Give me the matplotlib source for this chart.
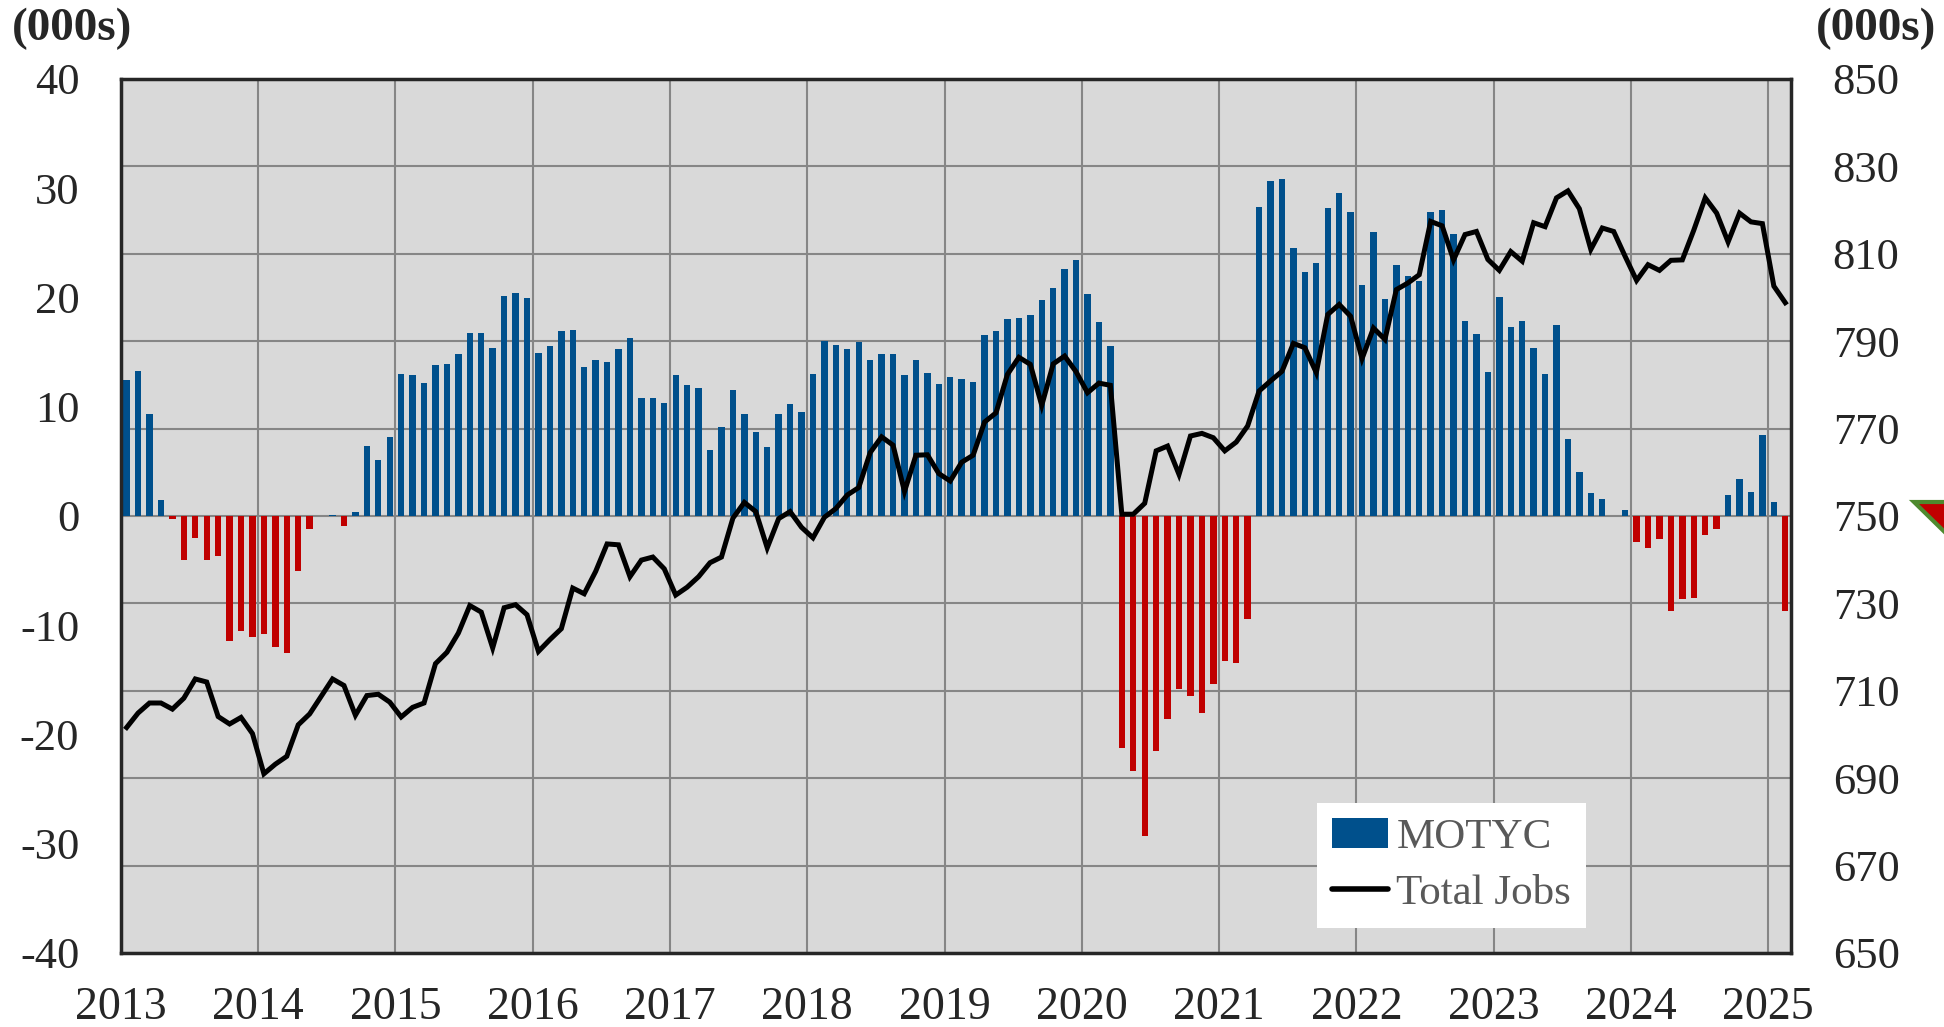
import matplotlib.pyplot as plt
import numpy as np
from matplotlib.patches import Patch, Polygon
from matplotlib.lines import Line2D

plt.rcParams['font.family'] = ['Liberation Serif', 'DejaVu Serif']
plt.rcParams['axes.unicode_minus'] = False

# monthly data, Jan 2013 .. Feb 2025
motyc = [
    12.45, 13.27, 9.34, 1.46, -0.25, -4.0, -2.0, -4.0, -3.66, -11.4,
    -10.5, -11.1, -10.8, -12.0, -12.5, -5.0, -1.2, 0.0, 0.1, -0.9,
    0.4, 6.4, 5.1, 7.2, 13.0, 12.9, 12.2, 13.85, 13.9, 14.86,
    16.75, 16.75, 15.4, 20.1, 20.4, 19.95, 14.95, 15.56, 16.96, 17.05,
    13.6, 14.3, 14.07, 15.25, 16.26, 10.83, 10.83, 10.34, 12.88, 11.96,
    11.75, 6.04, 8.15, 11.53, 9.34, 7.66, 6.32, 9.34, 10.25, 9.55,
    12.97, 16.05, 15.65, 15.25, 15.96, 14.3, 14.86, 14.86, 12.88, 14.28,
    13.06, 12.05, 12.75, 12.54, 12.26, 16.57, 16.96, 18.06, 18.15, 18.37,
    19.8, 20.84, 22.58, 23.46, 20.3, 17.76, 15.56, -21.2, -23.3, -29.26,
    -21.5, -18.55, -15.8, -16.5, -18.0, -15.4, -13.3, -13.5, -9.4, 28.28,
    30.66, 30.8, 24.56, 22.36, 23.19, 28.19, 29.6, 27.8, 21.15, 26.0,
    19.9, 22.97, 21.97, 21.5, 27.8, 27.98, 25.8, 17.88, 16.66, 13.15,
    20.08, 17.33, 17.88, 15.35, 12.97, 17.45, 7.05, 4.03, 2.14, 1.53,
    0.0, 0.55, -2.42, -2.96, -2.15, -8.7, -7.63, -7.53, -1.78, -1.21,
    1.92, 3.41, 2.2, 7.44, 1.28, -8.7,
]

total_jobs = [
    701.6, 704.9, 707.2, 707.2, 705.8, 708.3, 712.7, 712.0, 704.1, 702.4,
    703.9, 700.2, 691.0, 693.2, 695.0, 702.2, 704.7, 708.7, 712.7, 711.2,
    704.4, 708.9, 709.2, 707.4, 704.0, 706.2, 707.2, 716.2, 718.8, 723.2,
    729.5, 728.0, 719.8, 729.0, 729.7, 727.4, 719.0, 721.7, 724.2, 733.5,
    732.2, 737.3, 743.6, 743.4, 736.1, 739.9, 740.6, 737.9, 731.9, 733.7,
    736.1, 739.3, 740.6, 749.5, 753.1, 751.0, 742.7, 749.4, 751.0, 747.4,
    745.0, 749.7, 751.7, 754.8, 756.5, 764.5, 768.1, 766.2, 755.6, 763.9,
    764.0, 759.7, 758.0, 762.3, 763.9, 771.5, 773.6, 782.4, 786.3, 784.7,
    775.3, 784.8, 786.6, 783.0, 778.2, 780.4, 779.9, 750.4, 750.4, 752.9,
    764.9, 766.0, 759.5, 768.3, 768.9, 767.9, 764.9, 766.9, 770.6, 778.6,
    780.9, 783.1, 789.5, 788.5, 782.8, 796.1, 798.4, 795.7, 786.0, 793.0,
    790.4, 801.8, 803.3, 805.2, 817.4, 816.4, 808.6, 814.4, 815.1, 808.7,
    806.2, 810.5, 808.3, 817.1, 816.2, 822.8, 824.4, 820.3, 811.0, 815.9,
    815.1, 809.4, 803.9, 807.5, 806.2, 808.5, 808.6, 815.4, 822.8, 819.3,
    812.7, 819.3, 817.3, 816.9, 802.6, 798.8,
]

years = [str(y) for y in range(2013, 2026)]

blue = '#00508C'
red = '#C00000'
txt = '#262626'

fig = plt.figure(figsize=(19.44, 10.27), dpi=100)
ax = fig.add_axes([0.0622, 0.0721, 0.8591, 0.8510])
ax.set_facecolor('#D9D9D9')

n = len(motyc)
x = np.arange(n) + 0.5
cols = [blue if v >= 0 else red for v in motyc]

# grid: horizontal lines follow the right axis ticks
for r in range(650, 851, 20):
    ax.axhline((r - 750) / 2.5, color='#868686', lw=1.5, zorder=0.5)
for k in range(0, n + 1, 12):
    ax.axvline(k, color='#868686', lw=1.5, zorder=0.5)

ax.bar(x, motyc, width=0.56, color=cols, zorder=2)
ax.set_xlim(0, n)
ax.set_ylim(-40, 40)
ax.set_yticks(range(-40, 41, 10))
ax.set_xticks(range(0, n + 1, 12))
ax.set_xticklabels(years)
ax.tick_params(axis='y', length=0, pad=30, labelsize=32, labelcolor=txt)
ax.tick_params(axis='x', length=0, pad=24, labelsize=33, labelcolor=txt)
for s in ax.spines.values():
    s.set_color(txt)
    s.set_linewidth(2.5)

ax2 = ax.twinx()
ax2.plot(x, total_jobs, color='black', lw=3.6, solid_joinstyle='miter', zorder=3)
ax2.set_ylim(650, 850)
ax2.set_yticks(range(650, 851, 20))
ax2.tick_params(axis='y', length=0, pad=30, labelsize=32, labelcolor=txt)
for s in ax2.spines.values():
    s.set_visible(False)

handles = [Patch(facecolor=blue, edgecolor='none'),
           Line2D([0], [0], color='black', lw=4, solid_capstyle='round')]
leg = ax2.legend(handles, ['MOTYC', 'Total Jobs'], loc='lower left',
                 bbox_to_anchor=(0.716, 0.028), fontsize=31, frameon=True,
                 fancybox=False, framealpha=1, edgecolor='none',
                 handlelength=1.3, handletextpad=0.2, borderpad=0.35,
                 labelspacing=0.4, borderaxespad=0)
for t in leg.get_texts():
    t.set_color('#595959')

fig.text(0.006, 0.972, '(000s)', fontsize=34, fontweight='bold', color=txt,
         ha='left', va='center')
fig.text(0.996, 0.972, '(000s)', fontsize=34, fontweight='bold', color=txt,
         ha='right', va='center')

# small marker at the right edge
tri = Polygon([[0.9845, 0.511], [1.0087, 0.511], [1.0087, 0.4664]], closed=True,
              transform=fig.transFigure, facecolor=red, edgecolor='#4E8A2E',
              lw=3, clip_on=False)
fig.patches.append(tri)

fig.savefig('out.png', dpi=100)
